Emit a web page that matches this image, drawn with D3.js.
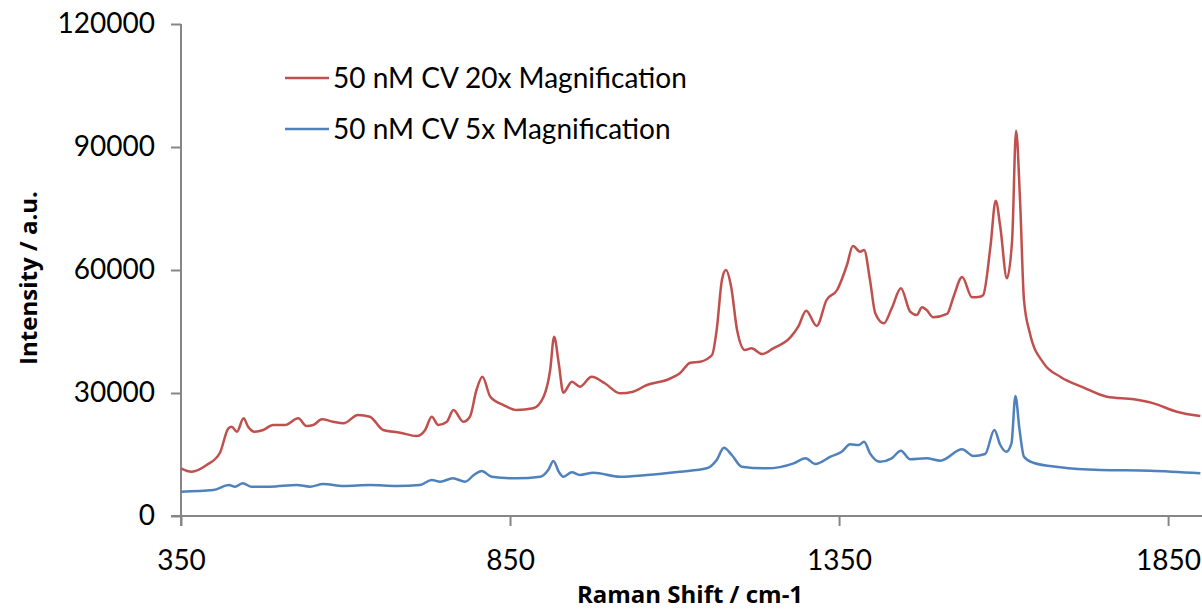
<!DOCTYPE html>
<html>
<head>
<meta charset="utf-8">
<script src="https://cdn.jsdelivr.net/npm/d3@7"></script>
<style>
  body { margin: 0; background: #fff; }
  svg text { font-family: Lato, "Open Sans", sans-serif; fill: #000; }
  svg text.title { font-family: "Open Sans", Lato, sans-serif; font-weight: bold; }
</style>
</head>
<body>
<div id="chart"></div>
<script>
// Raman spectra, values
var redShift = [350, 366, 389, 409, 422, 427, 435, 445, 452, 462, 475, 490, 508, 528, 541, 551, 564, 581, 597, 619, 637, 657, 683, 708, 721, 731, 741, 754, 764, 779, 789, 799, 808, 820, 840, 860, 885, 901, 911, 917, 924, 931, 944, 956, 974, 994, 1017, 1037, 1058, 1088, 1108, 1124, 1139, 1157, 1164, 1172, 1178, 1186, 1195, 1207, 1217, 1233, 1250, 1276, 1288, 1300, 1316, 1331, 1347, 1362, 1371, 1382, 1388, 1397, 1405, 1418, 1430, 1444, 1458, 1468, 1476, 1483, 1493, 1514, 1524, 1537, 1552, 1564, 1569, 1580, 1588, 1595, 1605, 1613, 1619, 1625, 1631, 1640, 1661, 1686, 1721, 1757, 1798, 1828, 1863, 1899];
var redIntensity = [11640, 10800, 12440, 15370, 21390, 21780, 20560, 23830, 21780, 20560, 20980, 22200, 22200, 23830, 21950, 22200, 23580, 23000, 22600, 24630, 24220, 20980, 20320, 19510, 20980, 24220, 22200, 23000, 25850, 23000, 24220, 30730, 33980, 29100, 27070, 25850, 26270, 29100, 35610, 43730, 37240, 30080, 32760, 31540, 33980, 32370, 29930, 30320, 31950, 33170, 34800, 37400, 37640, 39270, 45370, 57560, 60000, 55930, 45370, 40490, 40900, 39510, 40900, 43580, 46170, 50080, 46340, 52680, 55120, 61220, 65850, 64460, 64880, 57560, 49440, 47000, 50660, 55530, 49830, 49020, 50900, 50240, 48460, 49270, 53490, 58300, 53340, 53490, 53900, 65680, 76900, 70560, 57970, 67320, 93980, 77070, 52680, 44560, 37240, 33980, 31380, 29100, 28460, 27480, 25440, 24390];

var blueShift = [350, 399, 423, 432, 444, 457, 485, 526, 546, 566, 597, 637, 678, 713, 731, 744, 763, 782, 795, 807, 822, 860, 896, 908, 916, 924, 931, 944, 956, 977, 1017, 1058, 1108, 1149, 1164, 1175, 1187, 1202, 1240, 1281, 1299, 1314, 1337, 1354, 1367, 1380, 1388, 1397, 1412, 1430, 1444, 1458, 1483, 1504, 1537, 1554, 1572, 1586, 1595, 1604, 1612, 1618, 1624, 1631, 1645, 1686, 1747, 1823, 1899];
var blueIntensity = [5930, 6340, 7560, 7150, 7970, 7150, 7150, 7560, 7150, 7800, 7320, 7560, 7320, 7560, 8780, 8370, 9190, 8370, 10000, 10980, 9590, 9190, 9590, 11220, 13410, 10810, 9590, 10660, 10000, 10570, 9590, 10000, 10810, 11630, 13660, 16660, 14880, 12030, 11630, 12850, 14070, 12680, 14470, 15690, 17490, 17320, 18120, 15290, 13250, 14070, 15930, 13830, 14070, 13490, 16270, 14630, 15120, 20980, 17320, 15690, 17730, 29270, 21390, 14470, 13000, 11880, 11220, 11050, 10410];

var seriesNames = ['50 nM CV 20x Magnification', '50 nM CV 5x Magnification'];
var seriesColors = ['#c0504d', '#4f81bd'];
var xTicks = [350, 850, 1350, 1850];
var yTicks = [0, 30000, 60000, 90000, 120000];

var width = 1202,
    height = 611,
    axisColor = '#868686';

var svg = d3.select('#chart').append('svg')
    .attr('width', width)
    .attr('height', height);

var x = d3.scaleLinear().domain([350, 1900]).range([181, 1201]);
var y = d3.scaleLinear().domain([0, 120000]).range([516, 24]);

// y axis
var yAxis = svg.append('g')
    .attr('transform', 'translate(181,0)')
    .call(d3.axisLeft(y).tickValues(yTicks).tickSize(10).tickPadding(16).tickFormat(d3.format('d')));
yAxis.selectAll('text').style('font-size', '28px');

// x axis
var xAxis = svg.append('g')
    .attr('transform', 'translate(0,516)')
    .call(d3.axisBottom(x).tickValues(xTicks).tickSize(10).tickPadding(24).tickFormat(d3.format('d')));
xAxis.selectAll('text').style('font-size', '28px');

svg.selectAll('.domain, .tick line')
    .attr('stroke', axisColor)
    .attr('stroke-width', 2);
// extend y axis down through the first x tick, x axis left through the 0 tick
yAxis.select('.domain').attr('d', 'M0,' + y(120000) + 'V' + (y(0) + 10));
xAxis.select('.domain').attr('d', 'M' + (x(350) - 10) + ',0H' + width);

var line = d3.line()
    .x(function (d) { return x(d[0]); })
    .y(function (d) { return y(d[1]); })
    .curve(d3.curveMonotoneX);

var series = [
    d3.zip(redShift, redIntensity),
    d3.zip(blueShift, blueIntensity)
];

svg.selectAll('.spectrum')
    .data(series)
    .enter().append('path')
    .attr('class', 'spectrum')
    .attr('d', line)
    .attr('fill', 'none')
    .attr('stroke', function (d, i) { return seriesColors[i]; })
    .attr('stroke-width', 2.5)
    .attr('stroke-linejoin', 'round');

// legend
var legend = svg.selectAll('.legend')
    .data(seriesNames)
    .enter().append('g')
    .attr('class', 'legend')
    .attr('transform', function (d, i) { return 'translate(285,' + (78 + i * 51) + ')'; });

legend.append('line')
    .attr('x1', 0).attr('x2', 44)
    .attr('stroke', function (d, i) { return seriesColors[i]; })
    .attr('stroke-width', 2.5);

legend.append('text')
    .attr('x', 48)
    .attr('dy', '0.35em')
    .style('font-size', '28px')
    .text(function (d) { return d; });

// axis titles
svg.append('text')
    .attr('class', 'title')
    .attr('x', 690)
    .attr('y', 603)
    .attr('text-anchor', 'middle')
    .style('font-size', '24px')
    .text('Raman Shift / cm-1');

svg.append('text')
    .attr('class', 'title')
    .attr('transform', 'translate(37,278) rotate(-90)')
    .attr('text-anchor', 'middle')
    .style('font-size', '24px')
    .text('Intensity / a.u.');
</script>
</body>
</html>
